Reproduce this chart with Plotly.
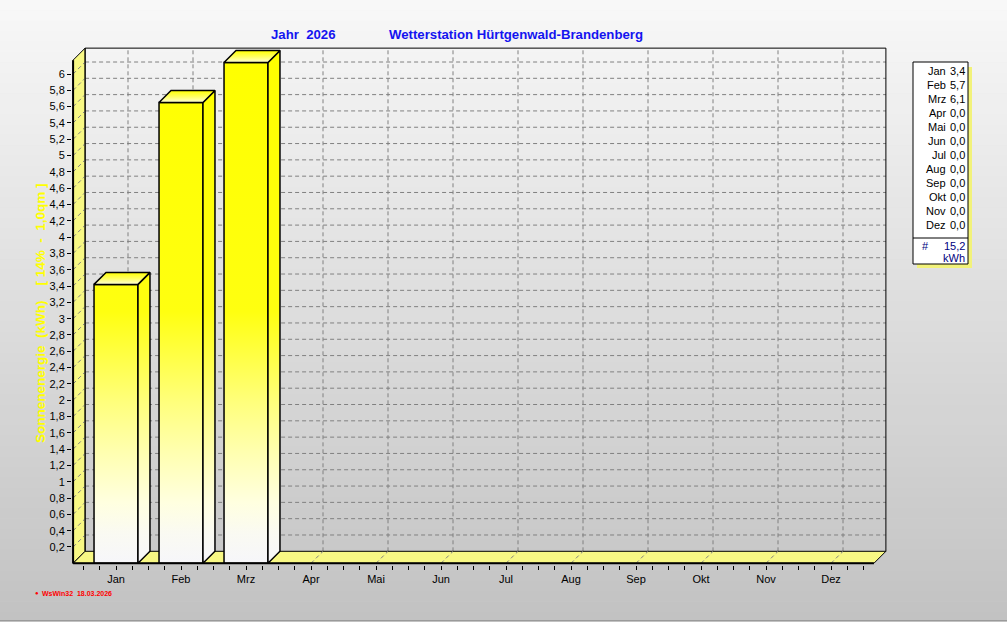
import plotly.graph_objects as go

# ---------------- data ----------------
months = ["Jan", "Feb", "Mrz", "Apr", "Mai", "Jun", "Jul", "Aug", "Sep", "Okt", "Nov", "Dez"]
energy_kwh = [3.42, 5.65, 6.14, 0.0, 0.0, 0.0, 0.0, 0.0, 0.0, 0.0, 0.0, 0.0]
ytick_values = [0.2, 0.4, 0.6, 0.8, 1.0, 1.2, 1.4, 1.6, 1.8, 2.0, 2.2, 2.4, 2.6, 2.8, 3.0,
                3.2, 3.4, 3.6, 3.8, 4.0, 4.2, 4.4, 4.6, 4.8, 5.0, 5.2, 5.4, 5.6, 5.8, 6.0]
ytick_labels = ["0,2", "0,4", "0,6", "0,8", "1", "1,2", "1,4", "1,6", "1,8", "2", "2,2", "2,4",
                "2,6", "2,8", "3", "3,2", "3,4", "3,6", "3,8", "4", "4,2", "4,4", "4,6", "4,8",
                "5", "5,2", "5,4", "5,6", "5,8", "6"]
title_year = "Jahr  2026"
title_station = "Wetterstation Hürtgenwald-Brandenberg"
y_title = "Sonnenenergie  (kWh)    [ 14%  -  1,0qm ]"
footer = "WsWin32  18.03.2026"
unit = "kWh"

# ---------------- geometry (pixels) ----------------
W, H = 1007, 622
PL, PR, PT, PB = 72, 888, 46, 565
PX_X, X0PX = 65.0, 116.0
PX_Y, Y0PX = 81.55, 563.3
xr = [(PL - X0PX) / PX_X, (PR - X0PX) / PX_X]
yr = [(Y0PX - PB) / PX_Y, (Y0PX - PT) / PX_Y]
DX, DY = 12 / PX_X, 12 / PX_Y
XL, XRt = -0.66, 11.66
YTOP = 6.17
BW = 0.338


def pxx(p):
    return (p - PL) / (PR - PL)


def pxy(p):
    return (PB - p) / (PB - PT)


FONT = "Liberation Sans, Arial, sans-serif"
WALL = "#F8F884"
GRID = "#808080"

traces = []


def poly(xs, ys, fill=None, grad=None, lw=1.0):
    kw = dict(x=xs + [xs[0]], y=ys + [ys[0]], mode="lines", fill="toself",
              line=dict(color="black", width=lw), hoverinfo="skip", showlegend=False)
    if grad is not None:
        kw["fillgradient"] = grad
    else:
        kw["fillcolor"] = fill
    return go.Scatter(**kw)


def dashed(xs, ys):
    return go.Scatter(x=xs, y=ys, mode="lines", line=dict(color=GRID, width=1, dash="4px,3px"),
                      hoverinfo="skip", showlegend=False)


# back plane grid (horizontal)
hx, hy = [], []
for v in ytick_values:
    hx += [XL + DX, XRt + DX, None]
    hy += [v + DY, v + DY, None]
traces.append(dashed(hx, hy))
# back plane grid (vertical)
vx, vy = [], []
for i in range(len(months)):
    vx += [i + DX, i + DX, None]
    vy += [DY, YTOP + DY, None]
traces.append(dashed(vx, vy))

# left wall
traces.append(poly([XL, XL, XL + DX, XL + DX], [0, YTOP, YTOP + DY, DY], fill=WALL))
wx, wy = [], []
for v in ytick_values:
    wx += [XL, XL + DX, None]
    wy += [v, v + DY, None]
traces.append(dashed(wx, wy))

# floor
traces.append(poly([XL, XRt, XRt + DX, XL + DX], [0, 0, DY, DY], fill=WALL))
fx, fy = [], []
for i in range(len(months)):
    fx += [i, i + DX, None]
    fy += [0, DY, None]
traces.append(dashed(fx, fy))

# back plane border
traces.append(go.Scatter(x=[XL + DX, XL + DX, XRt + DX, XRt + DX],
                         y=[DY, YTOP + DY, YTOP + DY, DY], mode="lines",
                         line=dict(color="black", width=1), hoverinfo="skip", showlegend=False))

front_cs = [[0.0, "#F6F6FA"], [0.06, "#FAFAF2"], [0.12, "#FFFFE0"], [0.22, "#FFFFB0"],
            [0.32, "#FFFF7C"], [0.42, "#FFFF40"], [0.50, "#FFFF10"], [1.0, "#FFFF00"]]

# bars
for i, v in enumerate(energy_kwh):
    if v <= 0:
        continue
    x0, x1 = i - BW, i + BW
    g = dict(type="vertical", colorscale=front_cs, start=0, stop=YTOP)
    traces.append(poly([x0, x1, x1, x0], [0, 0, v, v], grad=g, lw=1.5))
    traces.append(poly([x1, x1 + DX, x1 + DX, x1], [0, DY, v + DY, v], grad=g, lw=1.5))
    gt = dict(type="vertical", colorscale=[[0, "#FFFFD8"], [0.5, "#FFFF60"], [1, "#FFFF00"]],
              start=v, stop=v + DY)
    traces.append(poly([x0, x0 + DX, x1 + DX, x1], [v, v + DY, v + DY, v], grad=gt, lw=1.5))

# axis lines
traces.append(go.Scatter(x=[XL, XL], y=[0, YTOP], mode="lines", line=dict(color="black", width=2),
                         hoverinfo="skip", showlegend=False))
traces.append(go.Scatter(x=[XL, XRt], y=[0, 0], mode="lines", line=dict(color="black", width=2),
                         hoverinfo="skip", showlegend=False))

fig = go.Figure(traces)

# x ticks every quarter category, labels on the months
xtv, xtt = [], []
for k in range(-2, 4 * (len(months) - 1) + 3):
    xtv.append(k / 4)
    xtt.append(months[k // 4] if k % 4 == 0 else "")

shapes = []
# background gradient
NB = 60
for b in range(NB):
    y0p = H * b / NB
    y1p = H * (b + 1) / NB
    t = (b + 0.5) / NB
    c = int(round(248 - (248 - 194) * t))
    shapes.append(dict(type="rect", xref="paper", yref="paper", layer="below",
                       x0=pxx(0), x1=pxx(W), y0=pxy(y1p + 0.5), y1=pxy(y0p),
                       fillcolor=f"rgb({c},{c},{c})", line=dict(width=0)))
shapes.append(dict(type="line", xref="paper", yref="paper", layer="above",
                   x0=pxx(0), x1=pxx(W), y0=pxy(620.5), y1=pxy(620.5),
                   line=dict(color="#9A9A9A", width=1)))

# legend box
shapes.append(dict(type="rect", xref="paper", yref="paper", x0=pxx(917), x1=pxx(972),
                   y0=pxy(268), y1=pxy(67), fillcolor="#F2F27A", line=dict(width=0)))
shapes.append(dict(type="rect", xref="paper", yref="paper", x0=pxx(913), x1=pxx(968),
                   y0=pxy(264), y1=pxy(62), fillcolor="white", line=dict(color="black", width=1)))
shapes.append(dict(type="line", xref="paper", yref="paper", x0=pxx(913), x1=pxx(968),
                   y0=pxy(238), y1=pxy(238), line=dict(color="black", width=1)))

ann = []


def text(x, y, s, size=11, color="black", xanchor="center", bold=False, angle=0):
    ann.append(dict(xref="paper", yref="paper", x=pxx(x), y=pxy(y), text=f"<b>{s}</b>" if bold else s,
                    showarrow=False, xanchor=xanchor, yanchor="middle", textangle=angle,
                    font=dict(family=FONT, size=size, color=color)))


for i, (m, v) in enumerate(zip(months, energy_kwh)):
    yy = 70.7 + 14.03 * i
    text(947.5, yy, m, xanchor="right")
    text(967, yy, f"{v:.1f}".replace(".", ","), xanchor="right")
total = sum(energy_kwh)
text(920, 246, "#", color="#000080", xanchor="left")
text(967, 246, f"{total:.1f}".replace(".", ","), color="#000080", xanchor="right")
text(967, 258, unit, color="#000080", xanchor="right")

text(303.5, 34, title_year.replace(" ", "\u00a0"), size=13.2, color="#1414F0", bold=True)
text(516, 34, title_station, size=13.2, color="#1414F0", bold=True)
text(40, 313, y_title.replace(" ", "\u00a0"), size=13.5, color="#FFFF00", bold=True, angle=-90)
text(37, 593, "\u25CF", size=6, color="#FF0000")
text(40, 593, footer.replace(" ", "\u00a0"), size=7, color="#FF0000", xanchor="left", bold=True)

fig.update_layout(
    width=W, height=H,
    margin=dict(l=PL, r=W - PR, t=PT, b=H - PB, pad=0),
    paper_bgcolor="#DCDCDC", plot_bgcolor="rgba(0,0,0,0)",
    showlegend=False,
    shapes=shapes, annotations=ann,
    xaxis=dict(range=xr, tickvals=xtv, ticktext=xtt, ticks="outside", ticklen=4, tickcolor="black",
               showgrid=False, zeroline=False, showline=False, fixedrange=True,
               tickfont=dict(family=FONT, size=11, color="black")),
    yaxis=dict(range=yr, tickvals=ytick_values, ticktext=ytick_labels, ticks="outside", ticklen=4,
               tickcolor="black", showgrid=False, zeroline=False, showline=False, fixedrange=True,
               tickfont=dict(family=FONT, size=11, color="black")),
)

fig.write_html("out.html", config={"displayModeBar": False},
               post_script="document.body.style.margin='0px';")
